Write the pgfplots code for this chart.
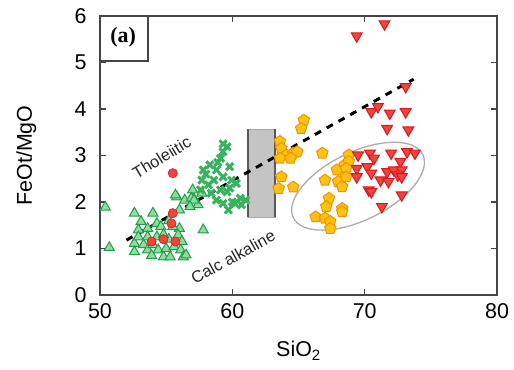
\documentclass[border=0pt]{standalone}
\usepackage{pgfplots}
\pgfplotsset{compat=1.18}
\usepackage{fontspec}
\setmainfont{Liberation Sans}
\newfontfamily\seriffont{Liberation Serif}
\definecolor{gedge}{HTML}{1E9E48}
\definecolor{gfill}{HTML}{8FDCA0}
\definecolor{xcol}{HTML}{36B35E}
\definecolor{oedge}{HTML}{F39200}
\definecolor{ofill}{HTML}{FFC20E}
\definecolor{redge}{HTML}{D7191F}
\definecolor{rfill}{HTML}{F0443C}
\definecolor{frame}{HTML}{454545}
\begin{document}
\begin{tikzpicture}[x=1bp,y=1bp]
\path[use as bounding box] (0,0) rectangle (514,369);
\begin{axis}[
  at={(100bp,74bp)}, anchor=south west,
  scale only axis, width=397bp, height=279bp,
  xmin=50, xmax=80, ymin=0, ymax=6,
  xtick={50,60,70,80}, ytick={0,1,2,3,4,5,6},
  tick align=inside, major tick length=6bp,
  axis line style={draw=frame, line width=1.3bp},
  every tick/.style={frame, line width=1.3bp},
  ticklabel style={font=\fontsize{21.5}{25}\selectfont},
  /pgf/number format/assume math mode=true,
  xticklabel style={yshift=-5bp},
  yticklabel style={xshift=-10bp},
  xlabel={SiO\textsubscript{2}}, ylabel={FeOt/MgO},
  label style={font=\fontsize{21.5}{25}\selectfont},
  xlabel style={at={(axis description cs:0.5,-0.2222)}, anchor=base},
  ylabel style={at={(axis description cs:-0.1713,0.5)}, anchor=base},
  clip=false,
]
% gray field
\addplot[draw=gray!70, fill=black!23, line width=0.6bp] coordinates {(61.16,1.67) (63.23,1.67) (63.23,3.56) (61.16,3.56) (61.16,1.67)};
\addplot[draw=black!65, line width=1.8bp] coordinates {(61.16,1.67) (61.16,3.56)};
\addplot[draw=black!65, line width=1.8bp] coordinates {(63.23,1.67) (63.23,3.56)};
% ellipse
\draw[gray!65, line width=1.3bp, rotate around={26:(axis cs:69.5,2.34)}] (axis cs:69.5,2.34) ellipse [x radius=72bp, y radius=34bp];
% green triangles
\addplot[only marks, mark=triangle*, mark size=5.8bp, mark options={draw=gedge, fill=gfill, line width=1bp}] coordinates {
(50.4,1.89) (50.7,1.02) (52.6,1.76) (54.0,1.76) (53.1,1.58) (53.6,1.43) (52.9,1.40) (54.3,1.54) (54.6,1.47) (52.6,1.11) (52.6,0.93) (53.3,1.08) (53.6,0.97) (54.0,1.08) (54.4,0.97) (54.8,0.82) (55.3,0.82) (55.0,1.00) (55.6,1.04) (56.1,0.97) (56.3,0.82) (56.0,1.43) (55.5,1.47) (55.9,1.29) (53.6,1.25) (55.8,2.11) (56.4,2.04) (57.0,2.11) (57.0,2.26) (56.5,0.86) (57.8,1.40) (55.7,2.15) (56.9,2.08) (57.4,1.94) (57.7,2.19) (57.1,2.04) (56.8,1.90) (56.0,1.83) (54.3,1.25) (55.2,1.20) (53.9,0.85) (56.2,1.15) (55.2,1.60) (54.8,1.30) (52.9,1.25)
};
% green crosses
\addplot[only marks, mark=x, mark size=5bp, mark options={draw=xcol, line width=3bp}] coordinates {
(59.3,3.08) (59.6,3.19) (59.1,2.94) (58.3,2.80) (57.8,2.69) (58.8,2.69) (59.8,2.76) (59.3,2.54) (58.6,2.47) (59.95,2.47) (60.3,2.40) (57.7,2.47) (58.2,2.37) (59.1,2.26) (59.6,2.22) (60.6,2.08) (60.2,1.97) (60.7,1.94) (59.3,1.97) (59.7,1.83) (58.8,2.04) (57.6,2.26) (58.4,2.19) (61.0,2.04) (59.3,3.25) (58.9,2.85) (60.0,2.00) (59.8,2.30) (58.0,2.60)
};
% red circles
\addplot[only marks, mark=*, mark size=4.6bp, mark options={draw=redge, fill=rfill, line width=0.6bp}] coordinates {
(55.5,2.62) (55.5,1.76) (55.4,1.54) (54.8,1.20) (55.7,1.15) (53.9,1.15)
};
% orange pentagons
\addplot[only marks, mark=pentagon*, mark size=6bp, mark options={draw=oedge, fill=ofill, line width=1bp}] coordinates {
(65.4,3.76) (65.2,3.58) (63.6,3.30) (63.7,3.15) (64.1,3.01) (64.6,3.05) (63.6,2.94) (64.9,3.08) (64.4,2.94) (66.8,3.05) (63.7,2.54) (63.5,2.29) (64.6,2.32) (67.0,2.47) (67.9,2.69) (68.0,2.44) (68.3,2.33) (68.5,2.80) (68.8,3.01) (68.8,2.87) (68.6,2.72) (68.6,2.54) (67.3,2.08) (67.1,1.90) (68.3,1.86) (68.3,1.79) (66.3,1.68) (67.0,1.65) (67.4,1.58) (67.4,1.43)
};
% red down triangles
\addplot[only marks, mark=triangle*, mark size=6.3bp, mark options={rotate=180, draw=redge, fill=rfill, line width=1bp}] coordinates {
(71.7,3.58) (73.3,3.55) (69.5,3.01) (70.4,3.05) (70.7,2.94) (72.0,3.05) (73.2,3.08) (73.8,3.05) (69.4,2.72) (70.2,2.76) (70.5,2.62) (69.4,2.54) (71.2,2.47) (71.7,2.65) (72.2,2.69) (72.7,2.87) (72.8,2.69) (72.5,2.58) (71.8,2.44) (72.8,2.54) (70.3,2.26) (70.5,2.22) (72.8,2.15) (71.3,1.90) (73.1,4.48) (70.5,3.94) (71.0,4.05) (71.9,3.91) (73.1,3.94) (71.5,5.83) (69.4,5.57)
};
% dividing line
\addplot[black, line width=3bp, dash pattern=on 7bp off 6.5bp] coordinates {(52.0,1.18) (73.7,4.64)};
% annotations
\draw[frame, line width=1.3bp] (axis cs:50,5.03) -- (axis cs:53.63,5.03) -- (axis cs:53.63,6);
\node[font=\seriffont\bfseries\fontsize{22}{25}\selectfont] at (axis cs:51.74,5.55) {(a)};
\node[rotate=31, font=\fontsize{16.5}{19}\selectfont, black!85] at (axis cs:54.65,2.96) {Tholeiitic};
\node[rotate=29, font=\fontsize{16.5}{19}\selectfont, black!85] at (axis cs:60.05,0.82) {Calc alkaline};
\end{axis}
\end{tikzpicture}
\end{document}
